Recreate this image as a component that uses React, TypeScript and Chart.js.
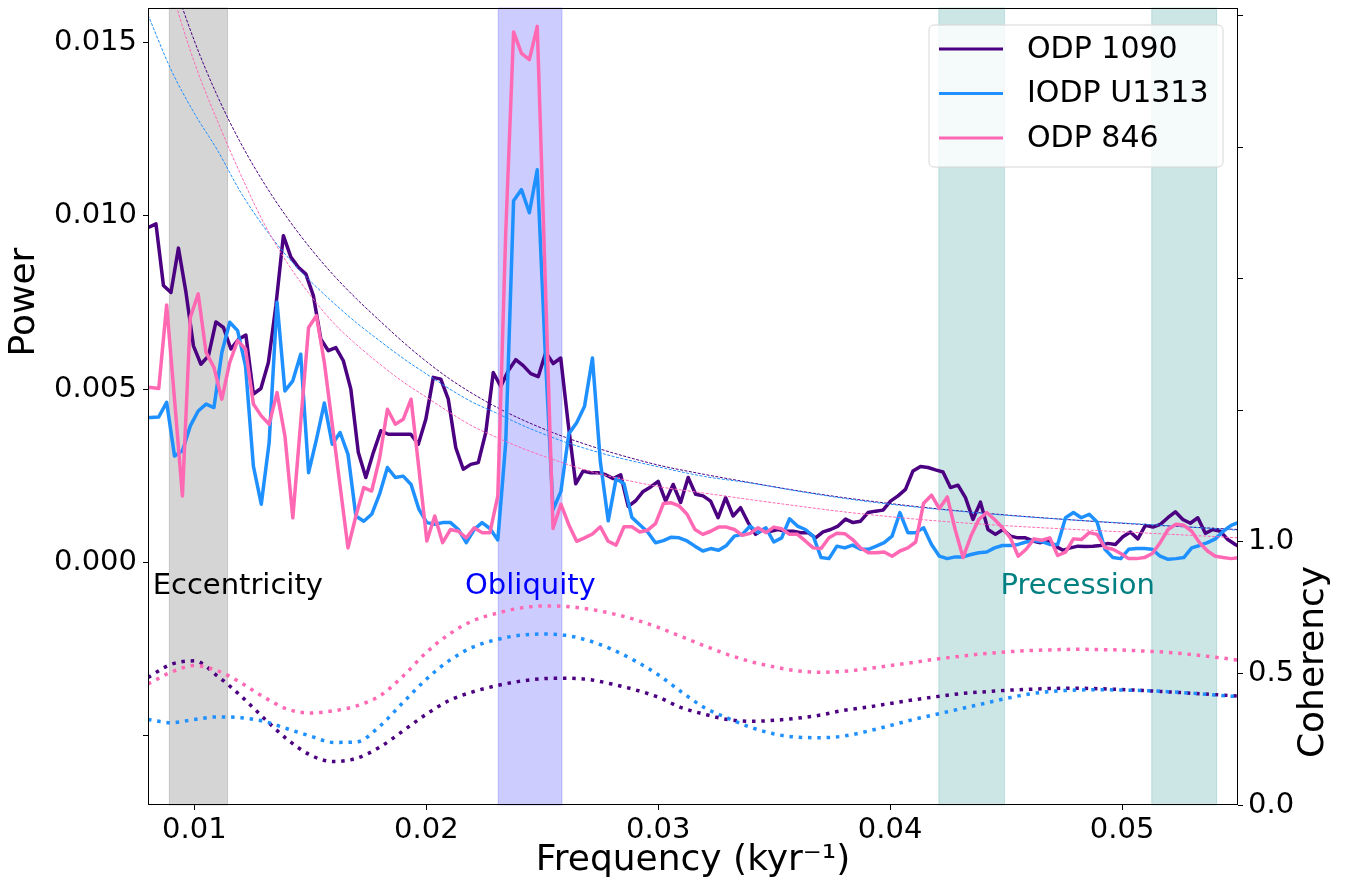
import React, { useEffect, useRef } from 'react';
import { Chart, registerables } from 'chart.js';

Chart.register(...registerables);

// ---------------- data ----------------
const FREQ_TICKS = [0.01, 0.02, 0.03, 0.04, 0.05];
const POWER_TICKS = [-0.005, 0, 0.005, 0.01, 0.015];
const COH_TICKS = [0, 0.5, 1, 1.5, 2, 2.5, 3];

// spectral frequency grids (kyr^-1): start and spacing
const ODP1090_F0 = 0.00802;
const ODP1090_DF = 0.0003232;
const U1313_846_F0 = 0.007784;
const U1313_846_DF = 0.00034;

const ODP1090_POWER = [
  0.00967, 0.00977, 0.00799, 0.00779, 0.00907, 0.0078, 0.00625, 0.00572, 0.00596, 0.00694,
  0.00678, 0.00616, 0.00644, 0.00656, 0.00486, 0.00502, 0.00577, 0.00741, 0.00943, 0.00881,
  0.00852, 0.00832, 0.0077, 0.00644, 0.00611, 0.0062, 0.00582, 0.005, 0.00317, 0.00245,
  0.00317, 0.0038, 0.0037, 0.0037, 0.0037, 0.0037, 0.00341, 0.00413, 0.00534, 0.00529,
  0.00471, 0.00331, 0.00269, 0.00283, 0.00288, 0.00375, 0.00548, 0.00508, 0.00553, 0.00585,
  0.00568, 0.00545, 0.00536, 0.00606, 0.00574, 0.0059, 0.004, 0.00227, 0.00264, 0.00259,
  0.00259, 0.00253, 0.00242, 0.00253, 0.00162, 0.00178, 0.00205, 0.00218, 0.00234, 0.00177,
  0.00225, 0.00173, 0.00245, 0.00197, 0.00192, 0.00177, 0.00129, 0.00187, 0.00134, 0.00158,
  0.00115, 0.00081, 0.00095, 0.0009, 0.00095, 0.0009, 0.0009, 0.00086, 0.00086, 0.00071,
  0.00088, 0.00095, 0.00105, 0.00125, 0.00115, 0.00119, 0.00144, 0.00148, 0.00151, 0.00177,
  0.00192, 0.00211, 0.00264, 0.00277, 0.00274, 0.00267, 0.00261, 0.00216, 0.00223, 0.00187,
  0.00124, 0.00174, 0.00095, 0.00081, 0.00095, 0.00076, 0.00071, 0.00071, 0.00062, 0.00057,
  0.00063, 0.00047, 0.00035, 0.00042, 0.00047, 0.00046, 0.00047, 0.00049, 0.00055, 0.00052,
  0.00074, 0.00088, 0.00068, 0.00107, 0.00102, 0.0011, 0.00129, 0.00146, 0.00124, 0.00113,
  0.00129, 0.00084, 0.00095, 0.0009, 0.00066, 0.00052, 0.0004,
];

const U1313_POWER = [
  0.00418, 0.00418, 0.0042, 0.00462, 0.00307, 0.00322, 0.00394, 0.00437, 0.00457, 0.00447,
  0.00606, 0.00693, 0.00669, 0.00567, 0.00278, 0.00168, 0.00346, 0.00751, 0.00495, 0.00524,
  0.00601, 0.00259, 0.00355, 0.0046, 0.00341, 0.00375, 0.00312, 0.00134, 0.00119, 0.00139,
  0.00197, 0.00274, 0.00245, 0.00249, 0.00225, 0.00153, 0.00115, 0.0011, 0.00115, 0.00115,
  0.00095, 0.00057, 0.00095, 0.00115, 0.00098, 0.00065, 0.00344, 0.01044, 0.01076, 0.01009,
  0.01133, 0.00611, 0.00152, 0.00205, 0.00371, 0.00403, 0.00451, 0.0059, 0.00291, 0.0012,
  0.00242, 0.00227, 0.0013, 0.00109, 0.00088, 0.00057, 0.00063, 0.00073, 0.00071, 0.00062,
  0.00047, 0.00033, 0.0004, 0.00035, 0.00049, 0.00076, 0.00081, 0.00105, 0.00086, 0.001,
  0.00059, 0.00071, 0.00126, 0.00105, 0.00095, 0.00076, 0.00014, 0.00011, 0.00047, 0.00042,
  0.0005, 0.00038, 0.00038, 0.00047, 0.00057, 0.00076, 0.00144, 0.00086, 0.00086, 0.001,
  0.00052, 0.00018, 0.00011, 0.00016, 0.00016, 0.00023, 0.00028, 0.0003, 0.00042, 0.00049,
  0.00049, 0.00052, 0.00059, 0.00063, 0.0006, 0.00052, 0.00052, 0.00129, 0.00144, 0.00129,
  0.00139, 0.00117, 0.00038, 0.00014, 0.00011, 0.00038, 0.0004, 0.0004, 0.00038, 0.00018,
  0.00009, 0.00011, 0.00014, 0.00042, 0.00049, 0.00057, 0.00068, 0.0009, 0.00107, 0.00116,
];

const ODP846_POWER = [
  0.00505, 0.00505, 0.00502, 0.00743, 0.0047, 0.00192, 0.00707, 0.00775, 0.00606, 0.00563,
  0.00471, 0.00577, 0.0064, 0.00616, 0.00457, 0.00423, 0.00399, 0.0049, 0.00365, 0.00129,
  0.00404, 0.00678, 0.00712, 0.00577, 0.00399, 0.0022, 0.00042, 0.00134, 0.00216, 0.00206,
  0.003, 0.00442, 0.00399, 0.00413, 0.00471, 0.00269, 0.00062, 0.00134, 0.00057, 0.00095,
  0.0009, 0.00071, 0.001, 0.00086, 0.00086, 0.00192, 0.0095, 0.01531, 0.01469, 0.01451,
  0.01547, 0.00825, 0.00098, 0.00168, 0.00109, 0.00061, 0.00071, 0.00082, 0.00103, 0.00061,
  0.0005, 0.00103, 0.00103, 0.00088, 0.00093, 0.00112, 0.0017, 0.00172, 0.00163, 0.00139,
  0.00095, 0.00081, 0.0009, 0.00102, 0.00102, 0.00095, 0.00078, 0.00084, 0.001, 0.00086,
  0.00102, 0.00097, 0.00081, 0.00081, 0.00062, 0.00042, 0.0004, 0.00071, 0.00084, 0.00083,
  0.00066, 0.00042, 0.00028, 0.00028, 0.0003, 0.00018, 0.00033, 0.00042, 0.00059, 0.00171,
  0.00194, 0.00155, 0.00189, 0.00095, 0.00014, 0.00076, 0.00124, 0.00144, 0.00124, 0.001,
  0.00071, 0.00018, 0.00038, 0.00068, 0.00064, 0.00071, 0.0002, 0.0003, 0.00068, 0.00066,
  0.00086, 0.00081, 0.00043, 0.00038, 0.00026, 0.00011, 0.00011, 0.00014, 0.00026, 0.00057,
  0.00095, 0.0011, 0.00107, 0.0009, 0.00057, 0.00033, 0.00018, 0.00014, 0.00011, 0.00014,
];

// red-noise (AR1) background curves
const RN_FREQ = [
  0.008, 0.009, 0.01, 0.011, 0.012, 0.013, 0.014, 0.015, 0.016, 0.017, 0.018,
  0.019, 0.02, 0.021, 0.022, 0.023, 0.024, 0.025, 0.026, 0.027, 0.028,
  0.03, 0.032, 0.034, 0.036, 0.038, 0.04, 0.042, 0.045, 0.048, 0.051, 0.055,
];
const ODP1090_RN = [
  0.0194, 0.017, 0.01505, 0.01345, 0.0121, 0.01095, 0.00995, 0.00907, 0.00829, 0.0076, 0.00697,
  0.00636, 0.0058, 0.0053, 0.00487, 0.00449, 0.00416, 0.00387, 0.00361, 0.00338, 0.00317,
  0.00281, 0.00254, 0.0023, 0.00207, 0.00187, 0.0017, 0.00155, 0.00137, 0.00122, 0.00109, 0.00095,
];
const U1313_RN = [
  0.0158, 0.01421, 0.01296, 0.01189, 0.01068, 0.00968, 0.00883, 0.00812, 0.00749, 0.00691, 0.00639,
  0.00589, 0.00544, 0.00501, 0.00462, 0.00432, 0.004, 0.00372, 0.00347, 0.00326, 0.00307,
  0.00276, 0.00248, 0.00229, 0.00206, 0.00185, 0.00168, 0.00154, 0.00136, 0.00122, 0.0011, 0.00093,
];
const ODP846_RN = [
  0.0192, 0.01657, 0.01443, 0.01273, 0.01119, 0.00979, 0.00865, 0.00771, 0.00691, 0.00628, 0.00572,
  0.00521, 0.00477, 0.00433, 0.00393, 0.00362, 0.00333, 0.00308, 0.00285, 0.00264, 0.00247,
  0.00219, 0.002, 0.00181, 0.00163, 0.00146, 0.00132, 0.0012, 0.00106, 0.00095, 0.00085, 0.00071,
];

// coherency
const COH_FREQ = [
  0.008, 0.009, 0.01, 0.011, 0.012, 0.013, 0.014, 0.015, 0.016, 0.017, 0.018, 0.019,
  0.02, 0.021, 0.022, 0.023, 0.024, 0.025, 0.026, 0.027, 0.028, 0.029, 0.03, 0.031,
  0.032, 0.033, 0.034, 0.035, 0.036, 0.037, 0.038, 0.039, 0.04, 0.041, 0.042, 0.043,
  0.044, 0.045, 0.046, 0.047, 0.048, 0.049, 0.05, 0.051, 0.052, 0.053, 0.054, 0.055,
];
const ODP1090_COH = [
  0.485, 0.535, 0.548, 0.49, 0.415, 0.33, 0.25, 0.19, 0.165, 0.178, 0.22, 0.282,
  0.345, 0.398, 0.43, 0.453, 0.47, 0.48, 0.482, 0.477, 0.46, 0.438, 0.41, 0.37,
  0.345, 0.325, 0.318, 0.322, 0.33, 0.342, 0.36, 0.372, 0.386, 0.4, 0.412, 0.423,
  0.43, 0.436, 0.44, 0.443, 0.444, 0.442, 0.439, 0.435, 0.43, 0.425, 0.42, 0.414,
];
const U1313_COH = [
  0.325, 0.313, 0.325, 0.335, 0.332, 0.318, 0.29, 0.262, 0.238, 0.24, 0.3, 0.39,
  0.478, 0.55, 0.6, 0.628, 0.645, 0.65, 0.645, 0.625, 0.592, 0.548, 0.495, 0.43,
  0.37, 0.33, 0.295, 0.27, 0.258, 0.256, 0.262, 0.28, 0.302, 0.325, 0.345, 0.365,
  0.385, 0.405, 0.422, 0.432, 0.437, 0.438, 0.437, 0.435, 0.431, 0.425, 0.418, 0.412,
];
const ODP846_COH = [
  0.46, 0.505, 0.53, 0.51, 0.465, 0.41, 0.365, 0.35, 0.358, 0.377, 0.415, 0.49,
  0.58, 0.65, 0.7, 0.728, 0.748, 0.757, 0.755, 0.745, 0.728, 0.705, 0.675, 0.64,
  0.605, 0.572, 0.545, 0.525, 0.51, 0.505, 0.508, 0.518, 0.53, 0.542, 0.555, 0.565,
  0.575, 0.582, 0.587, 0.59, 0.592, 0.591, 0.589, 0.585, 0.58, 0.572, 0.562, 0.551,
];

// orbital bands (kyr^-1)
const BAND_LO = [0.00892, 0.0231, 0.0421, 0.05128];
const BAND_HI = [0.01143, 0.02585, 0.04493, 0.05408];
const BAND_COLORS = ['rgba(128,128,128,0.33)', 'rgba(0,0,255,0.2)', 'rgba(0,128,128,0.2)', 'rgba(0,128,128,0.2)'];

const LABELS = ['Eccentricity', 'Obliquity', 'Precession'];
const LABEL_FREQ = [0.0082, 0.02167, 0.04476];
const LABEL_POWER = [-0.00092, -0.00092, -0.00092];
const LABEL_COLORS = ['#000000', '#0000ff', '#008080'];

const SERIES_NAMES = ['ODP 1090', 'IODP U1313', 'ODP 846'];
const SERIES_COLORS = ['#4b0082', '#1e90ff', '#ff69b4'];

// ---------------- chart ----------------
const FONT = "'DejaVu Sans', sans-serif";
const TICK_SIZE = 29;
const TITLE_SIZE = 36;

function toXY(xs: number[], ys: number[]) {
  return ys.map((y, i) => ({ x: xs[i], y }));
}
function grid(f0: number, df: number, n: number) {
  const out: number[] = [];
  for (let i = 0; i < n; i++) out.push(f0 + i * df);
  return out;
}

export default function App() {
  const ref = useRef<HTMLCanvasElement>(null);

  useEffect(() => {
    document.body.style.margin = '0';
    const f1090 = grid(ODP1090_F0, ODP1090_DF, ODP1090_POWER.length);
    const fOther = grid(U1313_846_F0, U1313_846_DF, U1313_POWER.length);
    const powers = [toXY(f1090, ODP1090_POWER), toXY(fOther, U1313_POWER), toXY(fOther, ODP846_POWER)];
    const rns = [ODP1090_RN, U1313_RN, ODP846_RN];
    const cohs = [ODP1090_COH, U1313_COH, ODP846_COH];

    const datasets: any[] = [];
    for (let s = 0; s < 3; s++) {
      datasets.push({
        label: SERIES_NAMES[s],
        data: powers[s],
        borderColor: SERIES_COLORS[s],
        borderWidth: 3.5,
        pointRadius: 0,
        tension: 0,
        yAxisID: 'y',
        order: 12 - s * 2,
        clip: 0,
        borderJoinStyle: 'round',
      });
      datasets.push({
        label: SERIES_NAMES[s] + ' red noise',
        data: toXY(RN_FREQ, rns[s]),
        borderColor: SERIES_COLORS[s],
        borderWidth: 1,
        borderDash: [3, 1.5],
        pointRadius: 0,
        cubicInterpolationMode: 'monotone',
        yAxisID: 'y',
        order: 11 - s * 2,
        clip: 0,
      });
      datasets.push({
        label: SERIES_NAMES[s] + ' coherency',
        data: toXY(COH_FREQ, cohs[s]),
        borderColor: SERIES_COLORS[s],
        borderWidth: 3.5,
        borderDash: [3.5, 5.8],
        borderCapStyle: 'butt',
        pointRadius: 0,
        cubicInterpolationMode: 'monotone',
        yAxisID: 'y2',
        order: 3 - s,
        clip: 0,
      });
    }

    const decor = {
      id: 'decor',
      beforeDatasetsDraw(chart: any) {
        const { ctx, chartArea, scales } = chart;
        const x = scales.x;
        ctx.save();
        for (let b = 0; b < BAND_LO.length; b++) {
          const x0 = x.getPixelForValue(BAND_LO[b]);
          const x1 = x.getPixelForValue(BAND_HI[b]);
          ctx.fillStyle = BAND_COLORS[b];
          ctx.fillRect(x0, chartArea.top, x1 - x0, chartArea.bottom - chartArea.top);
          ctx.strokeStyle = BAND_COLORS[b];
          ctx.lineWidth = 1;
          ctx.strokeRect(x0, chartArea.top, x1 - x0, chartArea.bottom - chartArea.top);
        }
        ctx.restore();
      },
      afterDatasetsDraw(chart: any) {
        const { ctx, chartArea, scales } = chart;
        const x = scales.x;
        const y = scales.y;
        ctx.save();
        // annotations
        ctx.font = `${TICK_SIZE}px ${FONT}`;
        ctx.textAlign = 'left';
        ctx.textBaseline = 'alphabetic';
        for (let i = 0; i < LABELS.length; i++) {
          ctx.fillStyle = LABEL_COLORS[i];
          ctx.fillText(LABELS[i], x.getPixelForValue(LABEL_FREQ[i]), y.getPixelForValue(LABEL_POWER[i]));
        }
        // legend
        const bw = 294;
        const bh = 142;
        const bx = chartArea.right - 15 - bw;
        const by = chartArea.top + 17;
        ctx.beginPath();
        const r = 5;
        ctx.moveTo(bx + r, by);
        ctx.arcTo(bx + bw, by, bx + bw, by + bh, r);
        ctx.arcTo(bx + bw, by + bh, bx, by + bh, r);
        ctx.arcTo(bx, by + bh, bx, by, r);
        ctx.arcTo(bx, by, bx + bw, by, r);
        ctx.closePath();
        ctx.fillStyle = 'rgba(255,255,255,0.8)';
        ctx.fill();
        ctx.strokeStyle = '#d6d6d6';
        ctx.lineWidth = 1;
        ctx.stroke();
        ctx.font = `30px ${FONT}`;
        for (let s = 0; s < 3; s++) {
          const ly = by + 24 + s * 44.5;
          ctx.strokeStyle = SERIES_COLORS[s];
          ctx.lineWidth = 3;
          ctx.beginPath();
          ctx.moveTo(bx + 10, ly);
          ctx.lineTo(bx + 74, ly);
          ctx.stroke();
          ctx.fillStyle = '#000';
          ctx.textBaseline = 'middle';
          ctx.fillText(SERIES_NAMES[s], bx + 98, ly + 1);
        }
        // frame
        ctx.strokeStyle = '#000';
        ctx.lineWidth = 1;
        ctx.strokeRect(chartArea.left + 0.5, chartArea.top + 0.5, chartArea.right - chartArea.left - 1, chartArea.bottom - chartArea.top - 1);
        ctx.restore();
      },
      afterDraw(chart: any) {
        const { ctx, chartArea } = chart;
        ctx.save();
        ctx.fillStyle = '#000';
        ctx.font = `${TITLE_SIZE}px ${FONT}`;
        ctx.textAlign = 'center';
        ctx.textBaseline = 'middle';
        ctx.fillText('Frequency (kyr⁻¹)', (chartArea.left + chartArea.right) / 2, 861);
        ctx.save();
        ctx.translate(25, 302);
        ctx.rotate(-Math.PI / 2);
        ctx.fillText('Power', 0, 0);
        ctx.restore();
        ctx.save();
        ctx.translate(1314, 662);
        ctx.rotate(-Math.PI / 2);
        ctx.fillText('Coherency', 0, 0);
        ctx.restore();
        ctx.restore();
      },
    };

    const tickFont = { family: FONT, size: TICK_SIZE };
    const tickGrid = { drawOnChartArea: false, drawTicks: true, tickLength: 5, tickColor: '#000', tickWidth: 1 };
    const chart = new Chart(ref.current as HTMLCanvasElement, {
      type: 'line',
      data: { datasets },
      options: {
        animation: false,
        responsive: false,
        maintainAspectRatio: false,
        layout: { padding: { top: 8, left: 0, right: 0, bottom: 0 } },
        plugins: { legend: { display: false }, tooltip: { enabled: false } },
        scales: {
          x: {
            type: 'linear',
            min: 0.008,
            max: 0.055,
            afterBuildTicks: (s: any) => { s.ticks = FREQ_TICKS.map((v) => ({ value: v })); },
            afterFit: (s: any) => { s.height = 81; s.paddingLeft = 0; s.paddingRight = 0; },
            ticks: { font: tickFont, color: '#000', padding: 3, maxRotation: 0, autoSkip: false, callback: (v: any) => Number(v).toFixed(2) },
            grid: tickGrid,
            border: { display: false },
          },
          y: {
            type: 'linear',
            position: 'left',
            min: -0.007,
            max: 0.016,
            afterBuildTicks: (s: any) => { s.ticks = POWER_TICKS.map((v) => ({ value: v })); },
            afterFit: (s: any) => { s.width = 148; s.paddingTop = 0; s.paddingBottom = 0; },
            ticks: { font: tickFont, color: '#000', padding: 6, callback: (v: any) => (Number(v) < 0 ? '' : Number(v).toFixed(3)) },
            grid: tickGrid,
            border: { display: false },
          },
          y2: {
            type: 'linear',
            position: 'right',
            min: 0,
            max: 3.03,
            afterBuildTicks: (s: any) => { s.ticks = COH_TICKS.map((v) => ({ value: v })); },
            afterFit: (s: any) => { s.width = 108; s.paddingTop = 0; s.paddingBottom = 0; },
            ticks: { font: tickFont, color: '#000', padding: 5, callback: (v: any) => (Number(v) <= 1 ? Number(v).toFixed(1) : '') },
            grid: tickGrid,
            border: { display: false },
          },
        },
      } as any,
      plugins: [decor],
    });
    return () => chart.destroy();
  }, []);

  return (
    <div style={{ width: 1346, height: 886 }}>
      <canvas ref={ref} width={1346} height={886} style={{ display: 'block' }} />
    </div>
  );
}
